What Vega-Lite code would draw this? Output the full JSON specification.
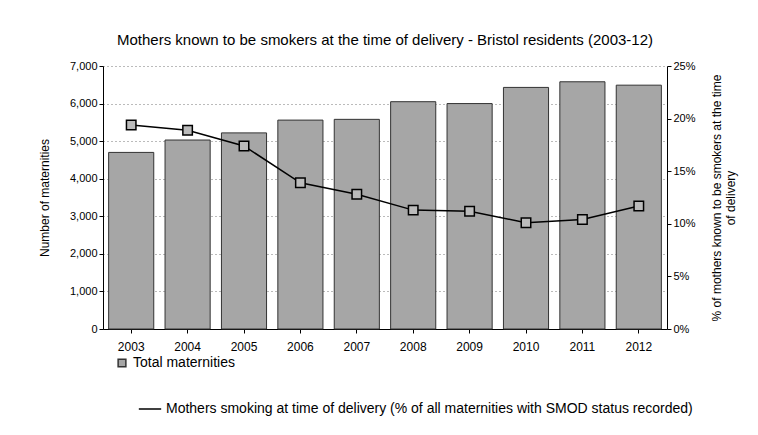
{
  "$schema": "https://vega.github.io/schema/vega-lite/v6.json",
  "autosize": "none",
  "width": 564,
  "height": 263,
  "padding": {"left": 103, "top": 66, "right": 91, "bottom": 106},
  "background": "white",
  "title": {
    "text": "Mothers known to be smokers at the time of delivery - Bristol residents (2003-12)",
    "font": "Liberation Sans",
    "fontSize": 15,
    "fontWeight": "normal",
    "color": "black",
    "anchor": "middle",
    "offset": 12
  },
  "config": {
    "font": "Liberation Sans",
    "view": {"stroke": null},
    "axis": {"labelColor": "black", "titleColor": "black", "domainColor": "black", "tickColor": "black", "labelFontSize": 11, "titleFontSize": 12, "titleFontWeight": "normal"},
    "legend": {"labelFontSize": 14, "labelColor": "black", "labelLimit": 0}
  },
  "data": {
    "values": [
      {"year": "2003", "maternities": 4700, "pct": 19.4},
      {"year": "2004", "maternities": 5030, "pct": 18.9},
      {"year": "2005", "maternities": 5220, "pct": 17.4},
      {"year": "2006", "maternities": 5560, "pct": 13.9},
      {"year": "2007", "maternities": 5580, "pct": 12.8},
      {"year": "2008", "maternities": 6050, "pct": 11.3},
      {"year": "2009", "maternities": 6000, "pct": 11.2},
      {"year": "2010", "maternities": 6430, "pct": 10.1},
      {"year": "2011", "maternities": 6580, "pct": 10.4},
      {"year": "2012", "maternities": 6490, "pct": 11.7}
    ]
  },
  "encoding": {
    "x": {
      "field": "year",
      "type": "ordinal",
      "scale": {"paddingInner": 0.2, "paddingOuter": 0.1},
      "axis": {"title": null, "labelAngle": 0, "ticks": true, "tickSize": 4, "labelPadding": 8, "labelFontSize": 12}
    }
  },
  "layer": [
    {
      "mark": {"type": "bar", "stroke": "#333333", "strokeWidth": 1},
      "encoding": {
        "y": {
          "field": "maternities",
          "type": "quantitative",
          "scale": {"domain": [0, 7000]},
          "axis": {
            "title": "Number of maternities",
            "format": ",d",
            "values": [0, 1000, 2000, 3000, 4000, 5000, 6000, 7000],
            "grid": true,
            "gridDash": [1, 3],
            "gridColor": "#777777",
            "tickSize": 4,
            "titlePadding": 18
          }
        },
        "fill": {
          "datum": "Total maternities",
          "type": "nominal",
          "scale": {"range": ["#a6a6a6"]},
          "legend": {"title": null, "orient": "none", "legendX": 12, "legendY": 290, "symbolType": "square", "symbolSize": 60, "symbolStrokeColor": "#333"}
        }
      }
    },
    {
      "mark": {"type": "line", "color": "black", "strokeWidth": 1.5, "point": {"shape": "square", "filled": true, "fill": "#bbbbbb", "stroke": "black", "strokeWidth": 1.5, "size": 90}},
      "encoding": {
        "y": {
          "field": "pct",
          "type": "quantitative",
          "scale": {"domain": [0, 25]},
          "axis": {
            "orient": "right",
            "title": ["% of mothers known to be smokers at the time", "of delivery"],
            "titleAngle": 270,
            "titleAlign": "center",
            "titleBaseline": "bottom",
            "values": [0, 5, 10, 15, 20, 25],
            "labelExpr": "datum.value + '%'",
            "grid": false,
            "tickSize": 4,
            "titlePadding": 14
          }
        },
        "stroke": {
          "datum": "Mothers smoking at time of delivery (% of all maternities with SMOD status recorded)",
          "type": "nominal",
          "scale": {"range": ["black"]},
          "legend": {"title": null, "orient": "none", "legendX": 35, "legendY": 331, "symbolType": "stroke", "symbolStrokeWidth": 1.5, "symbolSize": 500}
        }
      }
    }
  ],
  "resolve": {"scale": {"y": "independent"}}
}
